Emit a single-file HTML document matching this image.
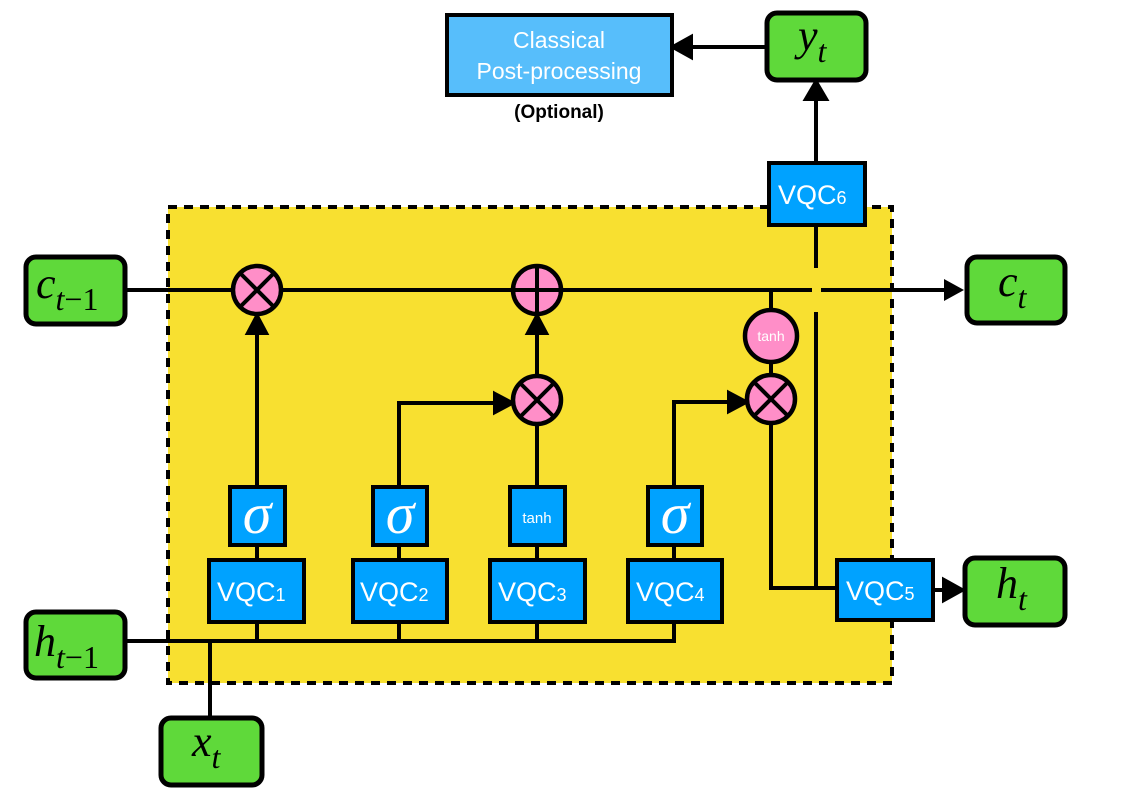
<!DOCTYPE html>
<html><head><meta charset="utf-8"><style>
html,body{margin:0;padding:0;background:#fff;width:1129px;height:800px;overflow:hidden}
svg{display:block}
.s{font-family:"Liberation Sans",sans-serif;fill:#fff}
.m{font-family:"Liberation Serif",serif;font-style:italic;fill:#000}
</style></head><body>
<svg width="1129" height="800" viewBox="0 0 1129 800" xmlns="http://www.w3.org/2000/svg">
<g stroke="#000" stroke-width="4" fill="none">
<rect x="168" y="207" width="724" height="476" fill="#F8E030" stroke-dasharray="9,7"/>
</g>
<g stroke="#000" stroke-width="4" fill="none">
<line x1="125" y1="290" x2="812" y2="290"/>
<line x1="821" y1="290" x2="948" y2="290"/>
<path d="M944,279 L964,290 L944,301 z" fill="#000" stroke="none"/>
<line x1="816" y1="225" x2="816" y2="268"/>
<line x1="816" y1="312" x2="816" y2="590"/>
<line x1="816" y1="163" x2="816" y2="98"/>
<path d="M806,99 L816,82 L826,99 z" fill="#000"/>
<line x1="766" y1="47" x2="690" y2="47"/>
<path d="M691,37 L673,47 L691,57 z" fill="#000"/>
<line x1="257" y1="487" x2="257" y2="332"/>
<path d="M248,333 L257,316 L266,333 z" fill="#000"/>
<line x1="537" y1="375" x2="537" y2="332"/>
<path d="M528,333 L537,316 L546,333 z" fill="#000"/>
<polyline points="399,487 399,403 495,403"/>
<path d="M495,394 L512,403 L495,412 z" fill="#000"/>
<line x1="537" y1="425" x2="537" y2="510"/>
<polyline points="674,487 674,402 729,402"/>
<path d="M729,393 L746,402 L729,411 z" fill="#000"/>
<line x1="771" y1="290" x2="771" y2="375"/>
<polyline points="771,424 771,588 837,588"/>
<line x1="933" y1="590" x2="946" y2="590"/>
<path d="M944,580 L962,590 L944,600 z" fill="#000"/>
<line x1="257" y1="545" x2="257" y2="560"/>
<line x1="399" y1="545" x2="399" y2="560"/>
<line x1="537" y1="545" x2="537" y2="560"/>
<line x1="674" y1="545" x2="674" y2="560"/>
<polyline points="125,641 674,641 674,622"/>
<line x1="257" y1="622" x2="257" y2="641"/>
<line x1="399" y1="622" x2="399" y2="641"/>
<line x1="537" y1="622" x2="537" y2="641"/>
<line x1="210" y1="641" x2="210" y2="718"/>
</g>
<g stroke="#000" stroke-width="4.5" fill="#FF8EC8">
<circle cx="257" cy="290" r="24"/>
<circle cx="537" cy="290" r="24"/>
<circle cx="537" cy="400" r="24"/>
<circle cx="771" cy="399" r="24"/>
<circle cx="771" cy="336" r="26"/>
</g>
<g stroke="#000" stroke-width="4">
<line x1="240" y1="273" x2="274" y2="307"/><line x1="274" y1="273" x2="240" y2="307"/>
<line x1="513" y1="290" x2="561" y2="290"/><line x1="537" y1="266" x2="537" y2="314"/>
<line x1="520" y1="383" x2="554" y2="417"/><line x1="554" y1="383" x2="520" y2="417"/>
<line x1="754" y1="382" x2="788" y2="416"/><line x1="788" y1="382" x2="754" y2="416"/>
</g>
<text x="771" y="341" class="s" font-size="14" text-anchor="middle">tanh</text>
<g stroke="#000" stroke-width="4" fill="#00A2FF">
<rect x="230" y="487" width="55" height="58"/>
<rect x="373" y="487" width="54" height="58"/>
<rect x="510" y="487" width="55" height="58"/>
<rect x="648" y="487" width="54" height="58"/>
<rect x="209" y="560" width="95" height="62"/>
<rect x="353" y="560" width="94" height="62"/>
<rect x="490" y="560" width="95" height="62"/>
<rect x="628" y="560" width="94" height="62"/>
<rect x="837" y="560" width="96" height="60"/>
<rect x="769" y="163" width="96" height="62"/>
<rect x="447" y="15" width="225" height="80" fill="#57BEFB"/>
</g>
<g class="m" font-size="58" text-anchor="middle">
<text x="257" y="533" style="fill:#fff">σ</text>
<text x="400" y="533" style="fill:#fff">σ</text>
<text x="675" y="533" style="fill:#fff">σ</text>
</g>
<text x="537" y="523" class="s" font-size="15" text-anchor="middle">tanh</text>
<g class="s" font-size="27">
<text x="217" y="601">VQC<tspan font-size="18">1</tspan></text>
<text x="360" y="601">VQC<tspan font-size="18">2</tspan></text>
<text x="498" y="601">VQC<tspan font-size="18">3</tspan></text>
<text x="636" y="601">VQC<tspan font-size="18">4</tspan></text>
<text x="846" y="600">VQC<tspan font-size="18">5</tspan></text>
<text x="778" y="204">VQC<tspan font-size="18">6</tspan></text>
</g>
<text x="559" y="48" class="s" font-size="23" text-anchor="middle">Classical</text>
<text x="559" y="79" class="s" font-size="23" text-anchor="middle">Post-processing</text>
<text x="559" y="118" font-family="Liberation Sans,sans-serif" font-weight="bold" font-size="19" text-anchor="middle">(Optional)</text>
<g stroke="#000" stroke-width="5" fill="#5FD93A">
<rect x="26" y="257" width="99" height="67" rx="10"/>
<rect x="967" y="257" width="98" height="66" rx="10"/>
<rect x="26" y="612" width="99" height="66" rx="10"/>
<rect x="965" y="558" width="100" height="67" rx="10"/>
<rect x="161" y="718" width="101" height="67" rx="10"/>
<rect x="767" y="13" width="99" height="67" rx="10"/>
</g>
<g class="m">
<text x="36" y="298" font-size="44">c<tspan font-size="32" dy="12">t</tspan><tspan font-size="32" font-style="normal">−1</tspan></text>
<text x="998" y="296" font-size="44">c<tspan font-size="32" dy="12">t</tspan></text>
<text x="34" y="656" font-size="44">h<tspan font-size="32" dy="12">t</tspan><tspan font-size="32" font-style="normal">−1</tspan></text>
<text x="996" y="598" font-size="44">h<tspan font-size="32" dy="12">t</tspan></text>
<text x="192" y="756" font-size="44">x<tspan font-size="32" dy="12">t</tspan></text>
<text x="798" y="50" font-size="44">y<tspan font-size="32" dy="12">t</tspan></text>
</g>
</svg>
</body></html>
